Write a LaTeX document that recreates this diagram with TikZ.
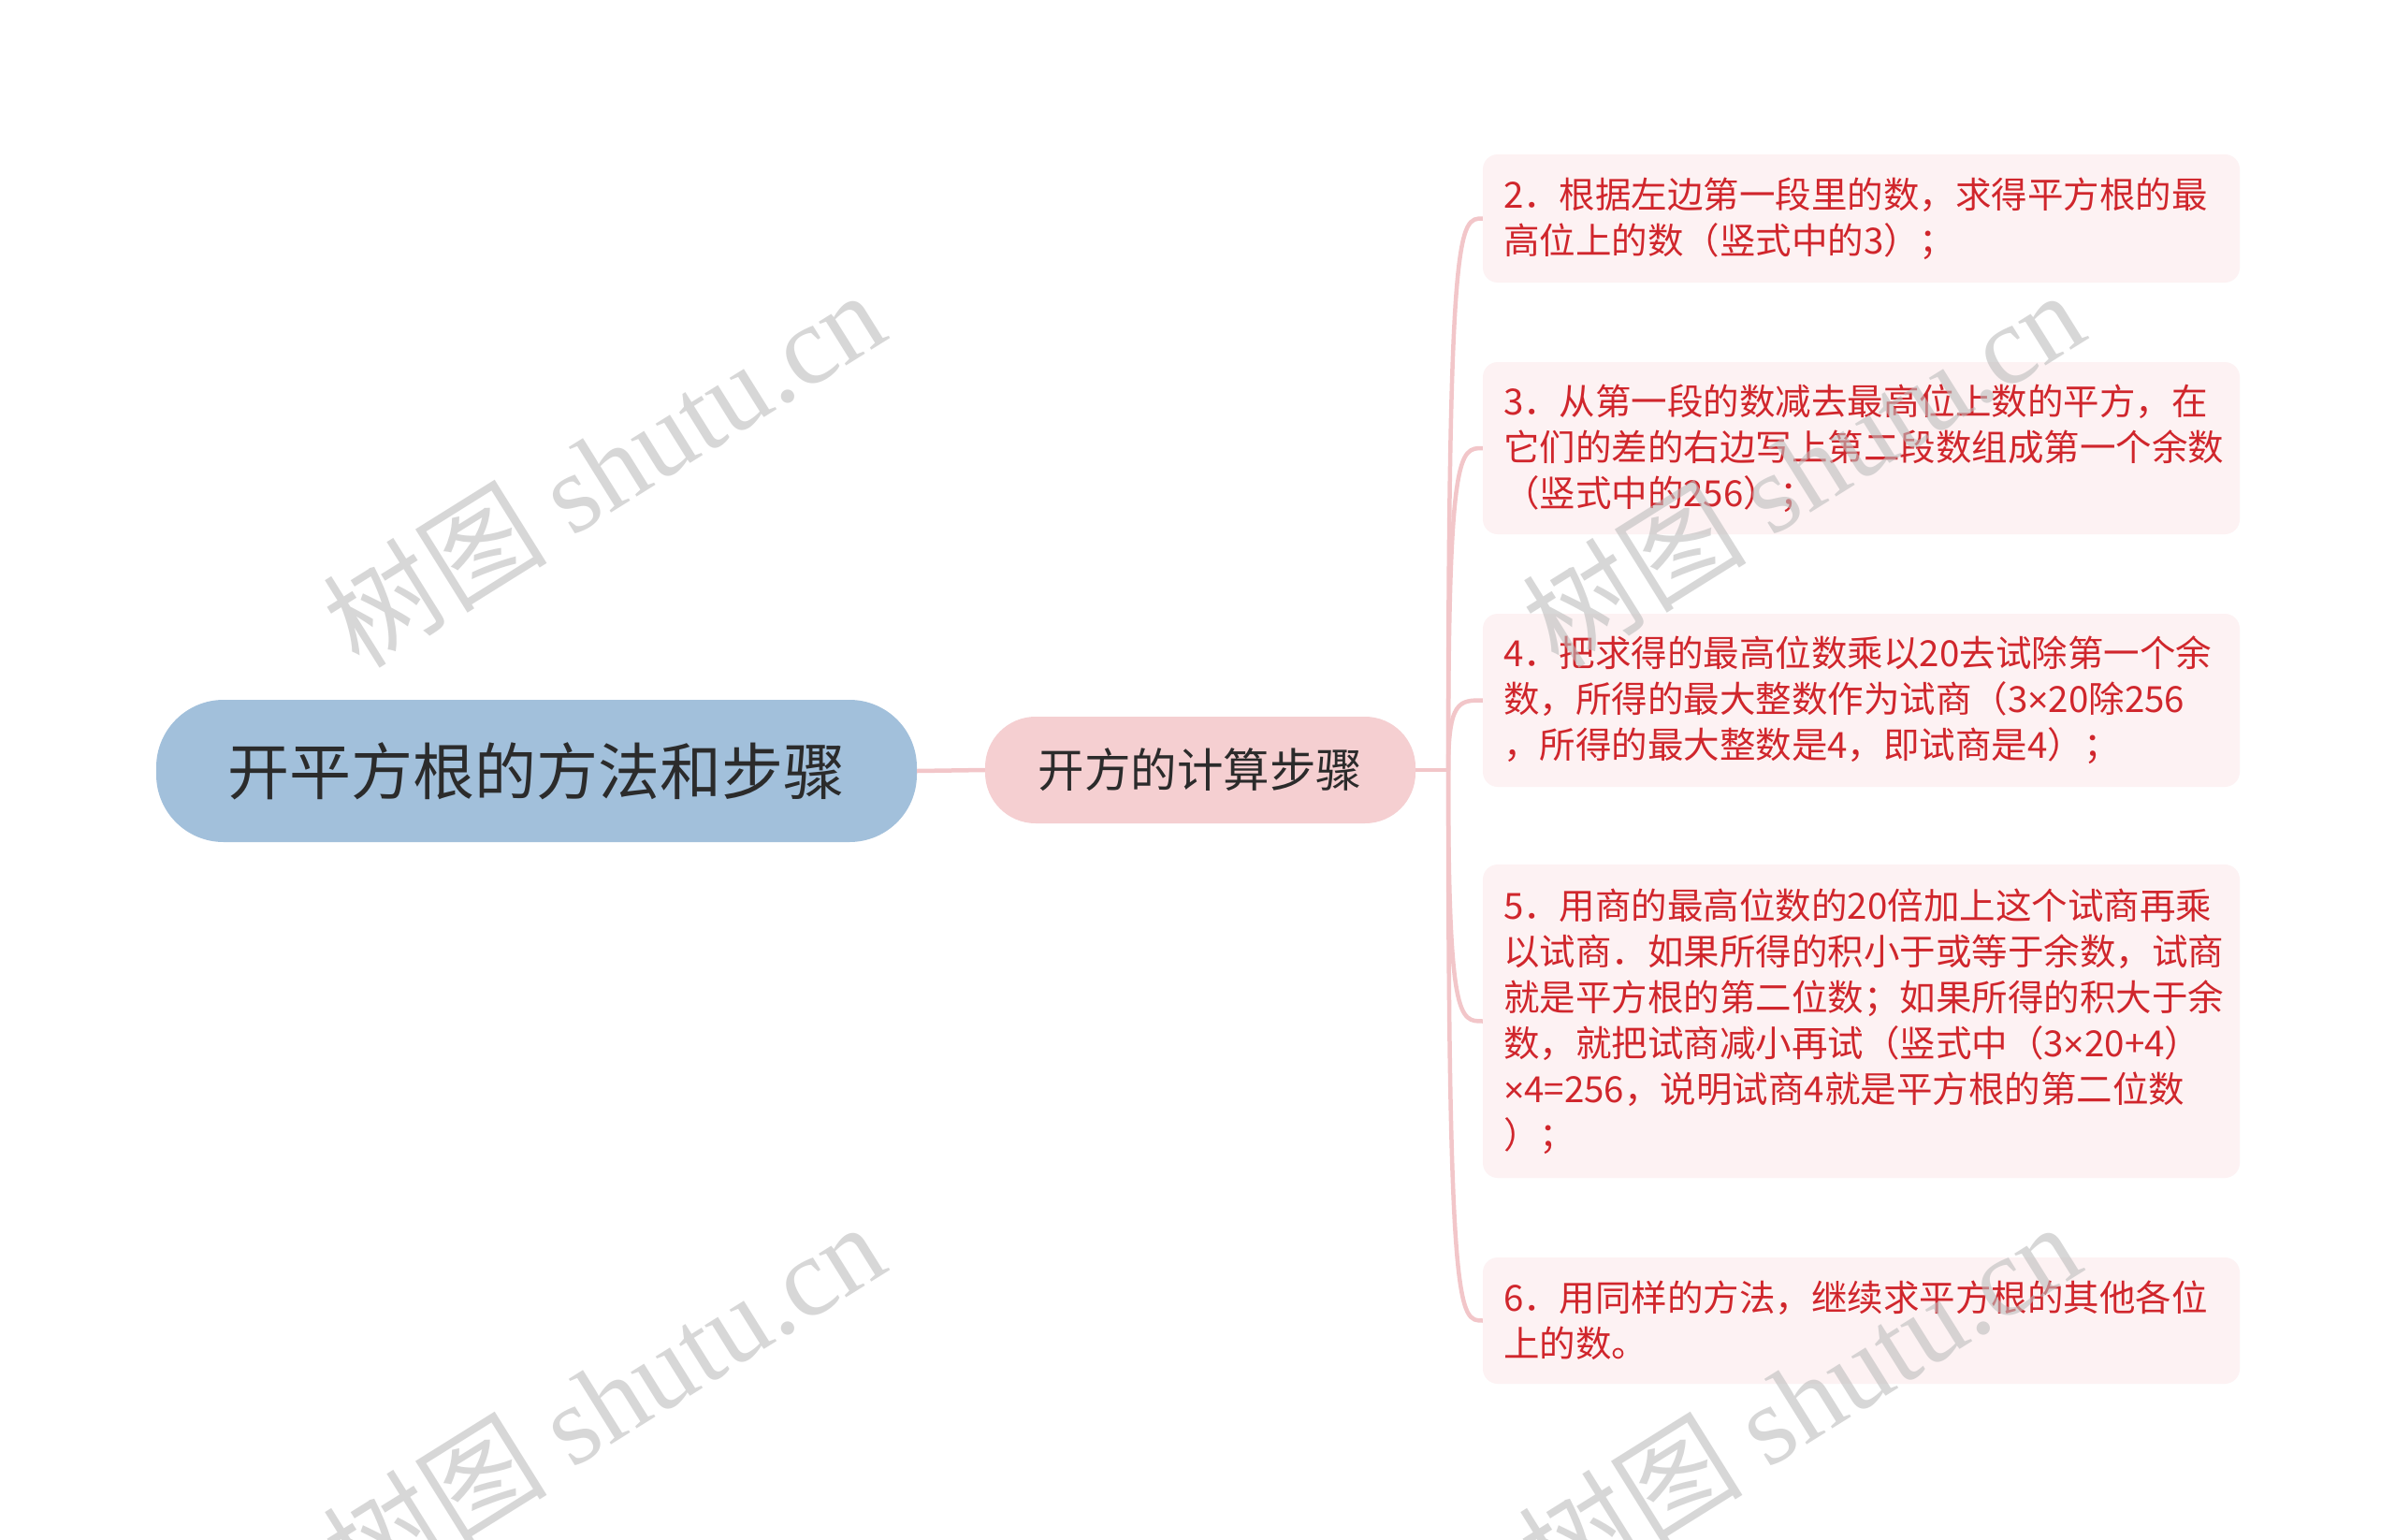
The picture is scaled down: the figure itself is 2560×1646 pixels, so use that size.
\documentclass[tikz,border=0pt]{standalone}
\usepackage{fontspec}
\newfontfamily\cjk{Noto Sans CJK SC}
\newfontfamily\latsans{Liberation Sans}
\newfontfamily\wmlatin{Liberation Serif}
\usetikzlibrary{calc}
\definecolor{rootfill}{HTML}{A2C0DB}
\definecolor{midfill}{HTML}{F5CFD1}
\definecolor{leaffill}{HTML}{FDF2F3}
\definecolor{leaftext}{HTML}{D0262C}
\definecolor{linkcol}{HTML}{F2C6C9}
\definecolor{roottext}{HTML}{2B2B2B}
\definecolor{wmgray}{HTML}{BDBDBD}
\newcommand{\tms}{{\latsans ×}}
\newcommand{\wmtext}{{\cjk\fontsize{120}{120}\selectfont 树图}\hspace{28pt}{\wmlatin\fontsize{120}{120}\selectfont shutu.cn}}
\tikzset{
  rootbox/.style={fill=rootfill, rounded corners=72pt, minimum width=813pt, minimum height=152pt,
    inner sep=0pt, text=roottext, font=\cjk\fontsize{66}{72}\selectfont},
  midbox/.style={fill=midfill, rounded corners=54pt, minimum width=460pt, minimum height=114pt,
    inner sep=0pt, text=roottext, font=\cjk\fontsize{49.5}{55}\selectfont},
  leafbox/.style={fill=leaffill, rounded corners=16pt, minimum width=809pt, inner xsep=22pt, inner ysep=0pt,
    text width=765pt, align=left, text=leaftext, font=\cjk\fontsize{38.5}{49}\selectfont},
  link/.style={draw=linkcol, line width=4.5pt},
  wm/.style={text=wmgray, opacity=0.6, rotate=32, inner sep=0pt}
}
\begin{document}
\begin{tikzpicture}[x=1pt,y=-1pt]
\useasboundingbox[fill=white] (0,0) rectangle (2560,1646);

\node[rootbox] (root) at (573.5,824) {开平方根的方法和步骤};
\node[midbox] (mid) at (1283,823) {开方的计算步骤};

\node[leafbox, minimum height=137pt] (l1) at (1989.5,233.5) {2．根据左边第一段里的数，求得平方根的最\\高位上的数（竖式中的3）；};
\node[leafbox, minimum height=184pt] (l2) at (1989.5,479) {3．从第一段的数减去最高位上数的平方，在\\它们的差的右边写上第二段数组成第一个余数\\（竖式中的256）；};
\node[leafbox, minimum height=185pt] (l3) at (1989.5,748.5) {4．把求得的最高位数乘以20去试除第一个余\\数，所得的最大整数作为试商（3\tms 20除256\\，所得的最大整数是4，即试商是4）；};
\node[leafbox, minimum height=335pt] (l4) at (1989.5,1091.5) {5．用商的最高位数的20倍加上这个试商再乘\\以试商．如果所得的积小于或等于余数，试商\\就是平方根的第二位数；如果所得的积大于余\\数，就把试商减小再试（竖式中（3\tms 20+4）\\\tms 4=256，说明试商4就是平方根的第二位数\\）；};
\node[leafbox, minimum height=135pt] (l5) at (1989.5,1411.5) {6．用同样的方法，继续求平方根的其他各位\\上的数。};

\coordinate (hub) at (1548,823);
\draw[link] (root.east) -- (mid.west);
\draw[link] (mid.east) -- (hub);
\foreach \l in {l1,l2,l3,l4,l5}{
  \draw[link] (hub) .. controls (hub |- \l.west) and ($(hub |- \l.west)+(12,0)$) .. (\l.west);
}

\node[wm] (wm1) at (645,500) {\wmtext};
\node[wm] (wm2) at (1927,500) {\wmtext};
\node[wm] (wm3) at (645,1496) {\wmtext};
\node[wm] (wm4) at (1923,1496) {\wmtext};
\end{tikzpicture}
\end{document}
